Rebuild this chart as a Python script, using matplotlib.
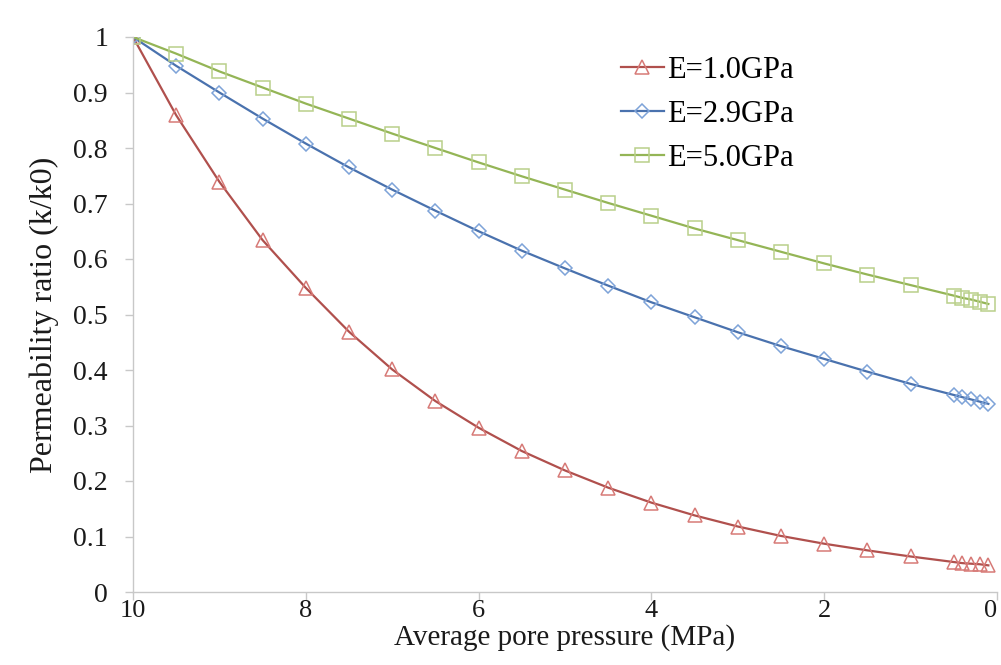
import matplotlib
matplotlib.use('Agg')
import matplotlib.pyplot as plt

# average pore pressure (MPa)
pressure = [10, 9.5, 9, 8.5, 8, 7.5, 7, 6.5, 6, 5.5, 5, 4.5, 4, 3.5, 3,
            2.5, 2, 1.5, 1, 0.5, 0.4, 0.3, 0.2, 0.1]

# permeability ratio k/k0
k_e10 = [1.0, 0.859, 0.739, 0.634, 0.548, 0.469, 0.401, 0.344, 0.296, 0.254,
         0.219, 0.188, 0.161, 0.138, 0.118, 0.101, 0.087, 0.075, 0.064, 0.054,
         0.052, 0.051, 0.050, 0.048]
k_e29 = [1.0, 0.948, 0.900, 0.853, 0.808, 0.765, 0.725, 0.687, 0.650, 0.615,
         0.583, 0.552, 0.522, 0.495, 0.468, 0.443, 0.420, 0.397, 0.375, 0.355,
         0.351, 0.347, 0.343, 0.339]
k_e50 = [1.0, 0.970, 0.938, 0.909, 0.880, 0.853, 0.826, 0.800, 0.774, 0.749,
         0.725, 0.701, 0.678, 0.655, 0.634, 0.613, 0.592, 0.572, 0.553, 0.534,
         0.530, 0.527, 0.523, 0.519]

labels = ["E=1.0GPa", "E=2.9GPa", "E=5.0GPa"]

plt.rcParams['font.family'] = ['Liberation Serif', 'DejaVu Serif']

fig = plt.figure(figsize=(10.01, 6.65), dpi=100)
ax = fig.add_axes([133 / 1001, 1 - 592 / 665, 864 / 1001, 555 / 665])

styles = [
    (k_e10, '^', '#B0504D', '#D77A77'),
    (k_e29, 'D', '#4A72AE', '#7EA3D8'),
    (k_e50, 's', '#94B556', '#B9D08A'),
]
for (vals, mk, lc, mc), lab in zip(styles, labels):
    ax.plot(pressure, vals, color=lc, lw=1.6, marker=mk,
            markersize=10 if mk != 'D' else 7.5, markerfacecolor='none',
            markeredgecolor=mc, markeredgewidth=1.1, label=lab)

ax.set_xlim(10, 0)
ax.set_ylim(0, 1)
ax.set_xticks([10, 8, 6, 4, 2, 0])
ax.set_xticklabels(['10', '8', '6', '4', '2', '0'])
ax.set_yticks([i / 10 for i in range(11)])
ax.set_yticklabels(['0', '0.1', '0.2', '0.3', '0.4', '0.5', '0.6', '0.7',
                    '0.8', '0.9', '1'])

for side in ('top', 'right'):
    ax.spines[side].set_visible(False)
for side in ('left', 'bottom'):
    ax.spines[side].set_color('#C8C8C8')
    ax.spines[side].set_linewidth(1.0)
ax.tick_params(axis='both', colors='#C8C8C8', length=6, width=1.0,
               labelsize=20, labelcolor='#1A1A1A')
ax.tick_params(axis='x', pad=0, labelsize=19)
ax.tick_params(axis='y', pad=12)
# last tick label sits on the figure edge, keep it inside
ax.get_xticklabels()[-1].set_horizontalalignment('right')

ax.set_xlabel('Average pore pressure (MPa)', fontsize=21, color='#1A1A1A',
              labelpad=1)
ax.set_ylabel('Permeability ratio (k/k0)', fontsize=23, color='#1A1A1A',
              labelpad=10)

ax.legend(loc='upper left', bbox_to_anchor=(0.54, 1.005), frameon=False,
          fontsize=22, handlelength=1.4, handletextpad=0.1,
          labelspacing=0.5, borderaxespad=0.3)

fig.savefig('out.png', dpi=100)
